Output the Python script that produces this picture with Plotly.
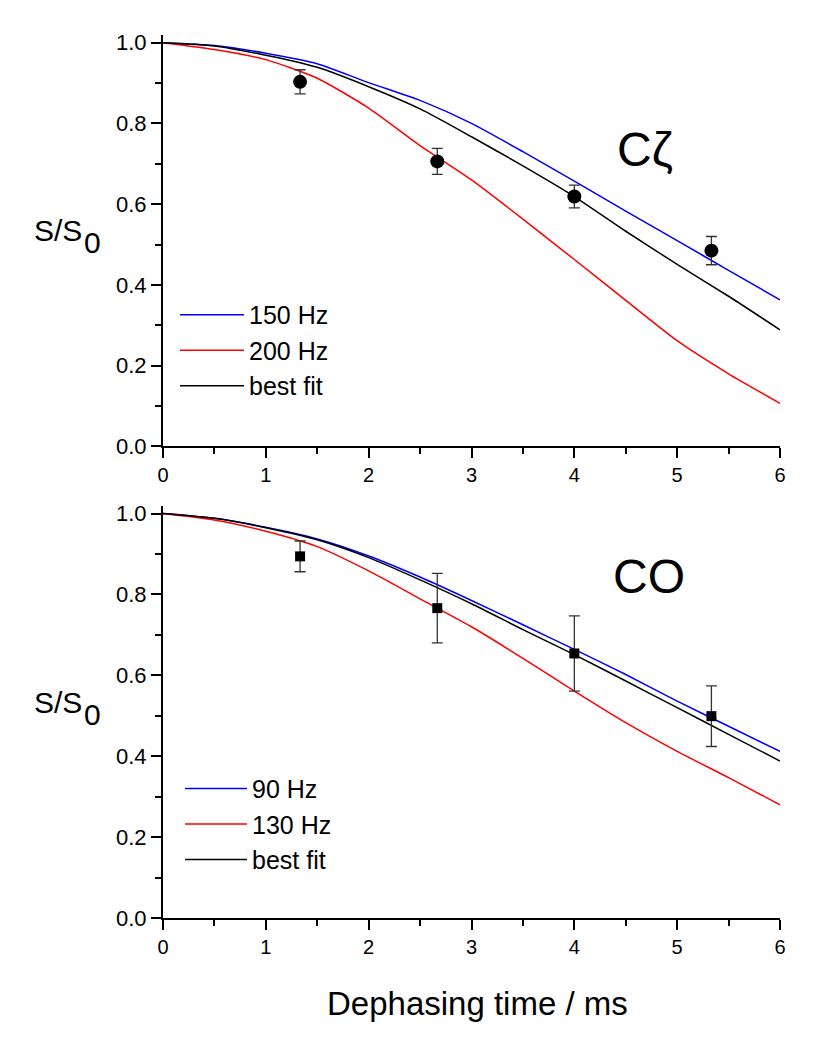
import plotly.graph_objects as go

# ---------------- data ----------------
t_curve = [0, 0.5, 1, 1.5, 2, 2.5, 3, 3.5, 4, 4.5, 5, 5.5, 6]

# top panel (C zeta)
cz_150 = [1.0, 0.993, 0.974, 0.948, 0.901, 0.857, 0.800, 0.730, 0.657, 0.583, 0.510, 0.436, 0.363]
cz_200 = [1.0, 0.983, 0.958, 0.912, 0.838, 0.745, 0.660, 0.563, 0.463, 0.362, 0.262, 0.180, 0.107]
cz_fit = [1.0, 0.992, 0.969, 0.939, 0.891, 0.836, 0.767, 0.695, 0.619, 0.533, 0.451, 0.372, 0.289]

t_pts = [1.333, 2.667, 4.0, 5.333]
cz_pts = [0.903, 0.706, 0.619, 0.485]
cz_err = [0.030, 0.032, 0.028, 0.035]

# bottom panel (CO)
co_90 = [1.0, 0.988, 0.966, 0.937, 0.895, 0.843, 0.785, 0.725, 0.664, 0.602, 0.536, 0.474, 0.412]
co_130 = [1.0, 0.984, 0.956, 0.918, 0.858, 0.789, 0.720, 0.642, 0.561, 0.483, 0.412, 0.347, 0.280]
co_fit = [1.0, 0.988, 0.965, 0.935, 0.891, 0.836, 0.777, 0.713, 0.651, 0.586, 0.520, 0.454, 0.388]

co_pts = [0.894, 0.766, 0.654, 0.499]
co_err = [0.038, 0.086, 0.093, 0.075]

x_ticks = [0, 1, 2, 3, 4, 5, 6]
y_ticks = [0.0, 0.2, 0.4, 0.6, 0.8, 1.0]
y_ticklabels = ["0.0", "0.2", "0.4", "0.6", "0.8", "1.0"]

FONT = "Liberation Sans, Arial, Helvetica, sans-serif"
BLUE = "#0000ff"
RED = "#ff0000"
BLACK = "#000000"

# page has an 8px body margin; plot area is placed at x 163..780, y 35..918 of the window
OFF = 8

fig = go.Figure()

def add_panel(xa, ya, legend, curves, pts, err, symbol, msize):
    for name, vals, col in curves:
        fig.add_trace(go.Scatter(x=t_curve, y=vals, mode="lines", name=name,
                                 line=dict(color=col, width=1.5, shape="spline", smoothing=0.6),
                                 xaxis=xa, yaxis=ya, legend=legend))
    fig.add_trace(go.Scatter(x=t_pts, y=pts, mode="markers", showlegend=False,
                             marker=dict(color="black", size=msize, symbol=symbol),
                             error_y=dict(type="data", array=err, visible=True,
                                          color="#333333", thickness=1.3, width=5.5),
                             xaxis=xa, yaxis=ya))

add_panel("x", "y", "legend",
          [("150 Hz", cz_150, BLUE), ("200 Hz", cz_200, RED), ("best fit", cz_fit, BLACK)],
          cz_pts, cz_err, "circle", 14)
add_panel("x2", "y2", "legend2",
          [("90 Hz", co_90, BLUE), ("130 Hz", co_130, RED), ("best fit", co_fit, BLACK)],
          co_pts, co_err, "square", 10)

xax = dict(range=[0, 6], tickvals=x_ticks, ticks="outside", ticklen=10, tickwidth=2,
           tickcolor="black", showline=True, linecolor="black", linewidth=2,
           showgrid=False, zeroline=False, tickfont=dict(size=20, color="black", family=FONT),
           minor=dict(dtick=0.5, ticks="outside", ticklen=6, tickwidth=2, tickcolor="black"))
yax = dict(range=[0, 1.019], tickvals=y_ticks, ticktext=y_ticklabels, ticks="outside",
           ticklen=10, tickwidth=2, tickcolor="black", showline=True, linecolor="black",
           linewidth=2, showgrid=False, zeroline=False,
           tickfont=dict(size=22, color="black", family=FONT),
           minor=dict(dtick=0.1, ticks="outside", ticklen=6, tickwidth=2, tickcolor="black"))

fig.update_layout(
    width=813 - 2 * OFF, height=1050 - 2 * OFF,
    margin=dict(l=163 - OFF, r=25, t=35 - OFF, b=1050 - 2 * OFF - (35 - OFF) - 883.3),
    paper_bgcolor="white", plot_bgcolor="white",
    font=dict(family=FONT, color="black"),
    xaxis=dict(xax, anchor="y", domain=[0, 1]),
    yaxis=dict(yax, anchor="x", domain=[0.534, 1]),
    xaxis2=dict(xax, anchor="y2", domain=[0, 1]),
    yaxis2=dict(yax, anchor="x2", domain=[0, 0.4668]),
    legend=dict(x=(175 - 163) / 617, y=(918.3 - 292) / 883.3, xanchor="left", yanchor="top",
                bgcolor="rgba(0,0,0,0)", font=dict(size=25, family=FONT), itemwidth=64,
                tracegroupgap=0),
    legend2=dict(x=(180 - 163) / 617, y=(918.3 - 766) / 883.3, xanchor="left", yanchor="top",
                 bgcolor="rgba(0,0,0,0)", font=dict(size=25, family=FONT), itemwidth=62,
                 tracegroupgap=0),
    showlegend=True,
)

annots = [
    dict(text="S/S", x=(32 - 163) / 617, y=(918.3 - 231) / 883.3, size=30),
    dict(text="0", x=(82 - 163) / 617, y=(918.3 - 243) / 883.3, size=30),
    dict(text="S/S", x=(32 - 163) / 617, y=(918.3 - 702.6) / 883.3, size=30),
    dict(text="0", x=(82 - 163) / 617, y=(918.3 - 714.6) / 883.3, size=30),
]
for a in annots:
    fig.add_annotation(text=a["text"], x=a["x"], y=a["y"], xref="paper", yref="paper",
                       xanchor="left", yanchor="middle", showarrow=False,
                       font=dict(size=a["size"], family=FONT, color="black"))

fig.add_annotation(text="Cζ", x=(645 - 163) / 617, y=(918.3 - 150) / 883.3, xref="paper",
                   yref="paper", xanchor="center", yanchor="middle", showarrow=False,
                   font=dict(size=48, family=FONT, color="black"))
fig.add_annotation(text="CO", x=(649 - 163) / 617, y=(918.3 - 577) / 883.3, xref="paper",
                   yref="paper", xanchor="center", yanchor="middle", showarrow=False,
                   font=dict(size=48, family=FONT, color="black"))
fig.add_annotation(text="Dephasing time / ms", x=(477.5 - 163) / 617, y=(918.3 - 1004) / 883.3,
                   xref="paper", yref="paper", xanchor="center", yanchor="middle",
                   showarrow=False, font=dict(size=33, family=FONT, color="black"))

fig.write_html("out.html")
